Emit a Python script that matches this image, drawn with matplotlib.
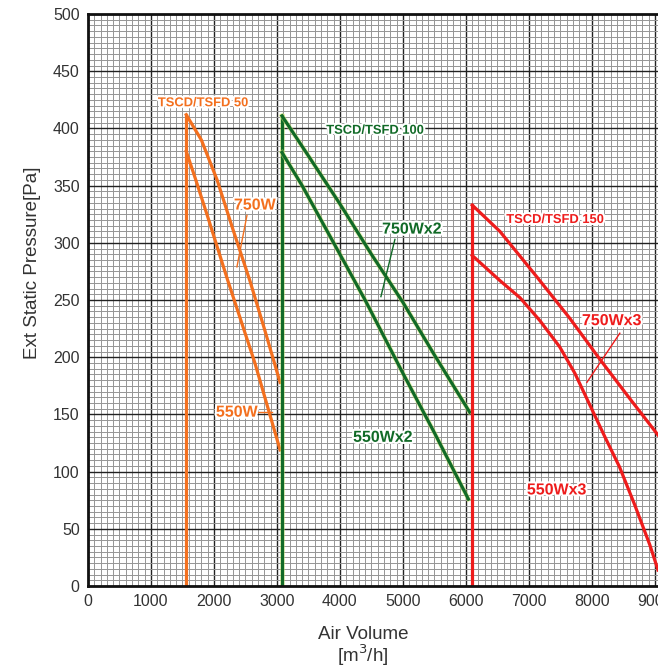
import numpy as np
import matplotlib
matplotlib.use("Agg")
import matplotlib.pyplot as plt
import matplotlib.patheffects as pe
from matplotlib.ticker import MultipleLocator

# fan curves: air volume [m3/h] vs ext static pressure [Pa]
SIZE50_X = 1560
SIZE50_750_X = [1560, 1800, 2050, 2300, 2570, 2800, 3050]
SIZE50_750_Y = [412, 390, 355, 312, 267, 225, 178]
SIZE50_550_X = [1560, 1700, 1900, 2220, 2650, 3050]
SIZE50_550_Y = [380, 357, 323, 267, 195, 119]

SIZE100_X = 3080
SIZE100_750_X = [3080, 3500, 4000, 4500, 5000, 5500, 6060]
SIZE100_750_Y = [411, 376, 334, 290, 248, 202, 152]
SIZE100_550_X = [3080, 3400, 3800, 4400, 5000, 5500, 6040]
SIZE100_550_Y = [379, 350, 310, 250, 186, 134, 76]

SIZE150_X = 6100
SIZE150_750_X = [6100, 6540, 7130, 7650, 8130, 8600, 9050]
SIZE150_750_Y = [333, 310, 270, 234, 198, 164, 132]
SIZE150_550_X = [6100, 6540, 6860, 7175, 7490, 7730, 7970, 8210, 8440, 8680, 8920, 9050]
SIZE150_550_Y = [289, 267, 252, 232, 209, 186, 158, 130, 104, 71, 36, 14]

ORANGE = "#f3701f"
GREEN = "#116a27"
RED = "#ee1c1c"

plt.rcParams["font.family"] = ["Liberation Sans", "DejaVu Sans"]

fig = plt.figure(figsize=(6.58, 6.69), dpi=100)
ax = fig.add_axes([0.1337, 0.124, 0.8663, 0.855])

ax.set_xlim(0, 9050)
ax.set_ylim(0, 500)

ax.xaxis.set_major_locator(MultipleLocator(1000))
ax.xaxis.set_minor_locator(MultipleLocator(100))
ax.yaxis.set_major_locator(MultipleLocator(50))
ax.yaxis.set_minor_locator(MultipleLocator(5))

ax.grid(which="major", color="#222222", linewidth=1.0)
ax.grid(which="minor", color="#959595", linewidth=0.7)
ax.set_axisbelow(True)
ax.tick_params(which="both", length=0)
ax.tick_params(labelsize=11.5, colors="#333333")
ax.tick_params(axis="y", pad=6)
ax.tick_params(axis="x", pad=6)

for side in ["left", "bottom", "top"]:
    ax.spines[side].set_linewidth(2)
    ax.spines[side].set_color("#111111")
ax.spines["right"].set_visible(False)

lw = 2.3
halo = [pe.Stroke(linewidth=lw + 1.2, foreground="#d8e870", alpha=0.5), pe.Normal()]

# TSCD/TSFD 50
ax.plot([SIZE50_X, SIZE50_X], [0, SIZE50_750_Y[0]], color=ORANGE, lw=lw)
ax.plot(SIZE50_750_X, SIZE50_750_Y, color=ORANGE, lw=lw)
ax.plot(SIZE50_550_X, SIZE50_550_Y, color=ORANGE, lw=lw)

# TSCD/TSFD 100
ax.plot([SIZE100_X, SIZE100_X], [0, SIZE100_750_Y[0]], color=GREEN, lw=lw, path_effects=halo)
ax.plot(SIZE100_750_X, SIZE100_750_Y, color=GREEN, lw=lw, path_effects=halo)
ax.plot(SIZE100_550_X, SIZE100_550_Y, color=GREEN, lw=lw, path_effects=halo)

# TSCD/TSFD 150
ax.plot([SIZE150_X, SIZE150_X], [0, SIZE150_750_Y[0]], color=RED, lw=lw)
ax.plot(SIZE150_750_X, SIZE150_750_Y, color=RED, lw=lw)
ax.plot(SIZE150_550_X, SIZE150_550_Y, color=RED, lw=lw)

white = [pe.withStroke(linewidth=3, foreground="white")]
big = dict(fontsize=11.5, fontweight="bold", ha="center", va="center", path_effects=white)
small = dict(fontsize=9.3, fontweight="bold", ha="center", va="center", path_effects=white)

ax.text(1825, 422, "TSCD/TSFD 50", color=ORANGE, **small)
ax.text(2650, 333, "750W", color=ORANGE, **big)
ax.plot([2524, 2365], [324, 279], color=ORANGE, lw=1)
ax.text(2365, 152, "550W", color=ORANGE, **big)
ax.plot([2700, 2920], [152, 152], color=ORANGE, lw=1)

ax.text(4555, 398, "TSCD/TSFD 100", color=GREEN, **small)
ax.text(5143, 312, "750Wx2", color=GREEN, **big)
ax.plot([4873, 4651], [303, 253], color=GREEN, lw=1)
ax.text(4683, 130, "550Wx2", color=GREEN, **big)

ax.text(7413, 320, "TSCD/TSFD 150", color=RED, **small)
ax.text(8317, 232, "750Wx3", color=RED, **big)
ax.plot([8444, 7921], [221, 178], color=RED, lw=1)
ax.text(7444, 84, "550Wx3", color=RED, **big)

ax.set_ylabel("Ext Static Pressure[Pa]", fontsize=13.5, color="#333333")
ax.yaxis.set_label_coords(-0.083, 0.566)
fig.text(0.552, 0.051, "Air Volume", fontsize=13.5, color="#333333", ha="center", va="center")
fig.text(0.552, 0.020, "[m$^3$/h]", fontsize=13.5, color="#333333", ha="center", va="center")

fig.savefig("out.png", dpi=100)
